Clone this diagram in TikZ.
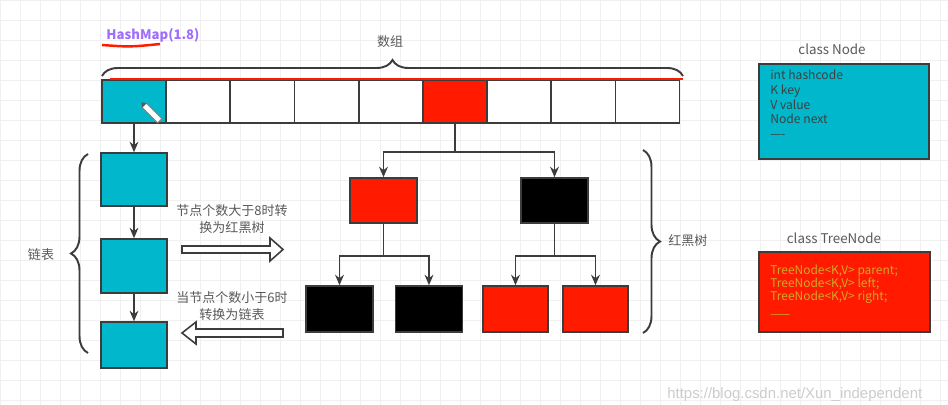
\documentclass[tikz,border=0pt]{standalone}
\usepackage{fontspec}
\setmainfont{Noto Sans CJK SC}
\newfontfamily\urlfont{Liberation Sans}
\usetikzlibrary{arrows.meta,decorations.pathreplacing}

\definecolor{nodeblue}{RGB}{0,183,204}
\definecolor{treered}{RGB}{255,26,0}
\definecolor{linegray}{RGB}{60,60,60}
\definecolor{hashpurple}{RGB}{160,110,255}
\definecolor{fieldgold}{RGB}{205,170,40}

\tikzset{
  cell/.style={draw=linegray, line width=0.8pt, minimum width=64*0.02cm, minimum height=43*0.02cm, inner sep=0pt},
  box/.style={draw=linegray, line width=0.8pt, minimum width=66*0.02cm, inner sep=0pt},
  link/.style={draw=linegray, line width=1.1pt, ->},
  stem/.style={draw=linegray, line width=1.1pt},
  brc/.style={draw=linegray, line width=1.1pt, decorate, decoration={brace, amplitude=#1}},
  brc/.default=0.3cm,
  lbl/.style={text=linegray!85, font=\fontsize{7.4}{9.2}\selectfont, align=center, inner sep=0pt},
  fields/.style={anchor=north west, align=left, inner sep=0pt},
}

\begin{document}
\begin{tikzpicture}[x=0.02cm, y=-0.02cm, >={Stealth[length=6pt,width=5pt]}]
    \useasboundingbox (0,0) rectangle (948,405);
    \fill[white] (0,0) rectangle (948,405);
    \draw[gray!12, line width=0.3pt, step=0.4cm] (0,405) grid (948,0);

    % title
    \node[text=hashpurple, font=\bfseries\fontsize{7.5}{9}\selectfont] (title) at (153,35) {HashMap(1.8)};
    \draw[treered, line width=1.4pt] (102,45) .. controls (130,47) .. (160,44);

    % array
    \foreach \i/\col in {0/nodeblue,1/white,2/white,3/white,4/white,5/treered,6/white,7/white,8/white}
        \node[cell, fill=\col] (c\i) at ({134+64.2*\i},101.5) {};
    \draw[treered, line width=1.6pt] (110,79) -- (683,79);
    \draw[brc=0.32cm] (102,76) -- (683,76);
    \node[lbl] (arrlbl) at (390,42) {数组};
    \draw[gray, fill=white, line width=0.5pt, rotate around={-45:(152,113)}] (141,110) rectangle (163,116);
    \fill[gray!70!black, rotate around={-45:(152,113)}] (141,110) -- (137,113) -- (141,116) -- cycle;

    % linked list
    \node[box, fill=nodeblue, minimum height=53*0.02cm] (l1) at (134,179.5) {};
    \node[box, fill=nodeblue, minimum height=54*0.02cm] (l2) at (134,266) {};
    \node[box, fill=nodeblue, minimum height=46*0.02cm] (l3) at (134,345) {};
    \draw[link] (c0) -- (l1);
    \draw[link] (l1) -- (l2);
    \draw[link] (l2) -- (l3);
    \draw[brc=0.34cm] (88,353) -- (88,154);
    \node[lbl] (listlbl) at (41,255) {链表};

    % conversion arrows
    \node[lbl] (tolbl) at (232,219) {节点个数大于8时转\\换为红黑树};
    \draw[linegray, line width=0.9pt, fill=white] (182,246) -- (270,246) -- (270,238) -- (283,249.5)
        -- (270,261) -- (270,253) -- (182,253) -- cycle;
    \node[lbl] (backlbl) at (232,306) {当节点个数小于6时\\转换为链表};
    \draw[linegray, line width=0.9pt, fill=white] (283,329) -- (196,329) -- (196,322) -- (182,333)
        -- (196,344) -- (196,337) -- (283,337) -- cycle;

    % red-black tree
    \node[box, fill=treered, minimum width=67*0.02cm, minimum height=45*0.02cm] (t1) at (383.5,200.5) {};
    \node[box, fill=black, minimum width=67*0.02cm, minimum height=45*0.02cm] (t2) at (554.5,200.5) {};
    \node[box, fill=black, minimum width=67*0.02cm, minimum height=46*0.02cm] (b1) at (339.5,309) {};
    \node[box, fill=black, minimum width=67*0.02cm, minimum height=46*0.02cm] (b2) at (429,309) {};
    \node[box, fill=treered, minimum width=65*0.02cm, minimum height=46*0.02cm] (r1) at (515.5,309) {};
    \node[box, fill=treered, minimum width=65*0.02cm, minimum height=46*0.02cm] (r2) at (595.5,309) {};
    \draw[stem] (c5.south) -- ++(0,28) coordinate (j0);
    \draw[link] (j0) -| (t1);
    \draw[link] (j0) -| (t2);
    \draw[stem] (t1.south) -- ++(0,32) coordinate (j1);
    \draw[link] (j1) -| (b1);
    \draw[link] (j1) -| (b2);
    \draw[stem] (t2.south) -- ++(0,32) coordinate (j2);
    \draw[link] (j2) -| (r1);
    \draw[link] (j2) -| (r2);
    \draw[brc=0.34cm] (643,150) -- (643,333);
    \node[lbl, anchor=west] (treelbl) at (668,241) {红黑树};

    % class Node
    \node[lbl, font=\fontsize{7.6}{9}\selectfont] (nodetitle) at (832,49) {class Node};
    \node[draw=linegray, line width=0.9pt, fill=nodeblue, minimum width=170*0.02cm, minimum height=95*0.02cm] (nodebox) at (844,111.5) {};
    \node[fields, text=black!75, font=\fontsize{6.9}{8.3}\selectfont] (nodefields) at (770,70)
        {int hashcode\\K key\\V value\\Node next\\----};

    % class TreeNode
    \node[lbl, font=\fontsize{7.6}{9}\selectfont] (treetitle) at (834,238) {class TreeNode};
    \node[draw=linegray, line width=0.9pt, fill=treered, minimum width=171*0.02cm, minimum height=80*0.02cm] (treebox) at (844.5,292) {};
    \node[fields, text=fieldgold, font=\fontsize{6.8}{7.2}\selectfont] (treefields) at (770,265)
        {TreeNode<K,V> parent;\\TreeNode<K,V> left;\\TreeNode<K,V> right;\\[3pt]------};

    % watermark
    \node[anchor=west, text=gray!40, font=\urlfont\fontsize{8.5}{10}\selectfont, inner sep=0pt] (wm) at (667,395)
        {https://blog.csdn.net/Xun\_independent};
\end{tikzpicture}
\end{document}
